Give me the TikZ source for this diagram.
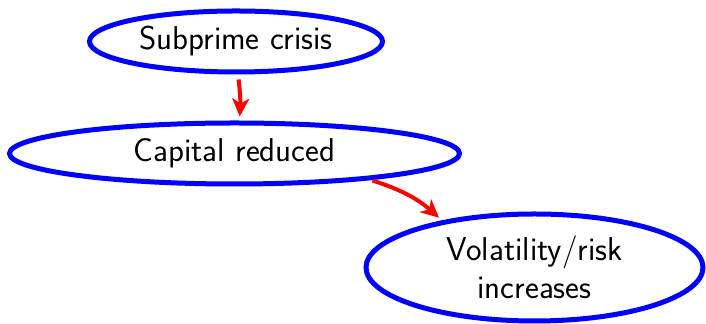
\documentclass[tikz,border=0pt]{standalone}
\usetikzlibrary{shapes.geometric,arrows.meta}
\begin{document}
\begin{tikzpicture}[x=0.5pt,y=0.5pt,
  bubble/.style={ellipse,draw=blue,line width=2.5pt,inner sep=0pt,align=center,
    font=\sffamily\fontsize{16.5}{19}\selectfont},
  link/.style={draw=red,line width=2pt,-{Stealth[length=9pt,width=8.5pt,inset=2.5pt]}}]
\useasboundingbox (0,0) rectangle (706,-324);
\node[bubble,minimum width=146.5pt,minimum height=30.5pt] (e1) at (236,-41.5) {Subprime crisis};
\node[bubble,minimum width=225pt,minimum height=30.5pt] (e2) at (234.5,-153.5) {Capital reduced};
\node[bubble,minimum width=168.5pt,minimum height=53.5pt] (e3) at (534.5,-267.5) {Volatility/risk\\increases};
\draw[link,shorten <=2.5pt,shorten >=2pt] ([xshift=1pt]e1.south) to[bend left=5] ([xshift=2.5pt]e2.north);
\draw[link,shorten <=1pt,shorten >=2pt] (e2.-11) to[bend left=12] (e3.153);
\end{tikzpicture}
\end{document}
